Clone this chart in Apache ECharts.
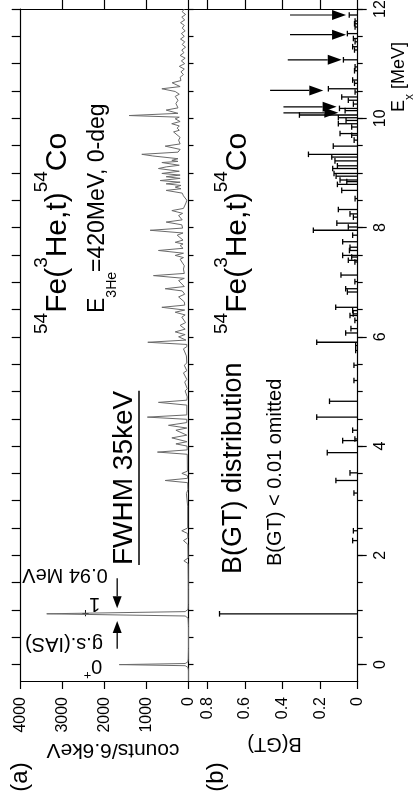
<!DOCTYPE html>
<html><head><meta charset="utf-8">
<script src="https://cdn.jsdelivr.net/npm/echarts@6/dist/echarts.min.js"></script>
<style>html,body{margin:0;padding:0;background:#fff}#c{width:414px;height:802px}</style>
</head><body><div id="c"></div>
<script>
const FONT = '"Liberation Sans", Arial, Helvetica, sans-serif';

// (a) spectrum: [Ex (MeV), counts/6.6keV]
const spectrum = [
[-0.30,0],[-0.10,0],[-0.05,15],[-0.02,80],[0.00,1650],[0.02,80],[0.05,15],[0.10,5],[0.30,0],[0.70,0],
[0.85,10],[0.89,80],[0.93,3380],[0.97,80],[1.01,10],[1.10,5],[1.38,5],[1.41,40],[1.44,5],[1.85,10],
[1.90,110],[1.95,10],[2.20,15],[2.27,120],[2.32,15],[2.40,20],[2.45,160],[2.50,20],[2.90,20],[3.13,50],
[3.20,15],[3.33,20],[3.37,556],[3.41,20],[3.46,25],[3.50,158],[3.54,25],[3.85,30],[3.89,740],[3.93,30],
[4.00,35],[4.04,300],[4.08,35],[4.15,397],[4.20,40],[4.29,300],[4.33,40],[4.38,477],[4.43,40],[4.49,40],
[4.53,980],[4.57,40],[4.75,40],[4.80,716],[4.84,40],[4.90,30],[5.01,80],[5.05,30],[5.17,90],[5.22,40],
[5.34,120],[5.38,40],[5.48,100],[5.52,40],[5.65,50],[5.78,120],[5.82,40],[5.86,40],[5.90,970],[5.94,60],
[6.00,236],[6.04,80],[6.09,317],[6.14,80],[6.21,200],[6.26,70],[6.36,160],[6.40,80],[6.45,317],[6.49,90],
[6.54,635],[6.58,90],[6.64,100],[6.73,236],[6.78,90],[6.84,150],[6.88,556],[6.92,100],[7.03,236],[7.07,100],
[7.12,835],[7.16,100],[7.24,120],[7.30,100],[7.42,200],[7.45,120],[7.49,317],[7.53,120],[7.58,716],[7.62,130],
[7.67,200],[7.70,130],[7.73,317],[7.77,130],[7.86,270],[7.90,130],[7.95,914],[7.99,140],[8.05,160],[8.10,532],
[8.14,150],[8.22,236],[8.26,140],[8.31,397],[8.35,120],[8.45,60],[8.50,40],[8.58,120],[8.63,150],[8.68,532],
[8.71,180],[8.74,317],[8.77,180],[8.80,532],[8.83,200],[8.86,675],[8.90,200],[8.93,532],[8.96,200],[8.99,635],
[9.03,220],[9.08,716],[9.11,532],[9.14,220],[9.19,635],[9.21,250],[9.23,397],[9.26,250],[9.31,850],[9.34,1113],
[9.38,250],[9.43,200],[9.49,556],[9.53,200],[9.60,236],[9.65,200],[9.75,356],[9.78,220],[9.82,270],[9.86,220],
[9.90,400],[9.94,200],[9.99,317],[10.02,220],[10.05,1415],[10.09,250],[10.15,532],[10.19,250],[10.27,300],[10.33,250],
[10.40,317],[10.44,220],[10.49,317],[10.54,635],[10.58,200],[10.65,390],[10.69,180],[10.75,200],[10.80,120],[10.85,180],
[10.90,100],[10.95,220],[11.00,90],[11.05,170],[11.10,80],[11.15,200],[11.20,110],[11.25,160],[11.30,70],[11.35,150],
[11.40,90],[11.45,190],[11.50,100],[11.55,170],[11.60,80],[11.65,150],[11.70,100],[11.75,190],[11.80,90],[11.85,160],
[11.90,70],[11.95,150],[12.00,100]
];

// (b) B(GT) distribution: [Ex (MeV), B(GT)]
const bgt = [
[0.93,0.735],[2.27,0.027],[2.45,0.023],[3.14,0.020],[3.37,0.116],[3.51,0.041],[3.88,0.162],[4.10,0.080],[4.13,0.015],[4.29,0.027],
[4.53,0.218],[4.82,0.150],[5.20,0.020],[5.48,0.020],[5.75,0.011],[5.84,0.011],[5.90,0.218],[6.07,0.064],[6.15,0.036],[6.30,0.015],
[6.39,0.041],[6.42,0.024],[6.48,0.027],[6.54,0.117],[6.82,0.055],[6.88,0.064],[7.01,0.015],[7.13,0.089],[7.37,0.015],[7.40,0.050],
[7.46,0.032],[7.49,0.080],[7.58,0.044],[7.64,0.041],[7.74,0.080],[7.86,0.027],[7.95,0.236],[8.01,0.050],[8.08,0.111],[8.19,0.023],
[8.25,0.041],[8.33,0.103],[8.53,0.014],[8.68,0.085],[8.79,0.108],[8.84,0.058],[8.87,0.094],[8.94,0.115],[8.99,0.126],[9.08,0.133],
[9.13,0.108],[9.22,0.121],[9.29,0.138],[9.34,0.262],[9.49,0.130],[9.60,0.019],[9.69,0.032],[9.72,0.094],[9.84,0.032],[9.90,0.103],
[9.96,0.062],[10.01,0.103],[10.06,0.310],[10.14,0.067],[10.18,0.097],[10.26,0.023],[10.33,0.050],[10.39,0.085],[10.48,0.014],[10.54,0.156],
[10.64,0.017],[10.70,0.027],[10.87,0.017],[10.94,0.014],[11.07,0.076],[11.25,0.017],[11.31,0.027],[11.40,0.014],[11.46,0.023],[11.55,0.055],
[11.67,0.014],[11.73,0.017],[11.78,0.014],[11.89,0.045]
];

// (b) arrows: [Ex, tip B(GT), tail B(GT)]
const bgtArrows = [[11.89,0.062,0.360],[11.53,0.062,0.360],[11.07,0.085,0.372],[10.51,0.183,0.466],[10.21,0.112,0.395],[10.10,0.103,0.395]];
// (a) arrows marking the 1+ peak: [counts, from Ex, to Ex]
const peakArrows = [[1700,0.29,0.80],[1700,1.58,1.03]];

// ticks / labels
const countTicks = [0,1000,2000,3000,4000];
const countTopTicks = [0,1000,2000,3000];
const bgtTicks = [0,0.2,0.4,0.6,0.8];
const exMajor = [0,2,4,6,8,10,12];
const exMinor = [0,0.5,1,1.5,2,2.5,3,3.5,4,4.5,5,5.5,6,6.5,7,7.5,8,8.5,9,9.5,10,10.5,11,11.5,12];

const chart = echarts.init(document.getElementById('c'), null, {renderer:'canvas', width:414, height:802});
const LS = {color:'#000', width:1.2};

function arrowEls(p, q, headLen, headHalf, lw) {
  const dx = q[0]-p[0], dy = q[1]-p[1]; const L = Math.hypot(dx, dy) || 1;
  const ux = dx/L, uy = dy/L; const bx = q[0]-ux*headLen, by = q[1]-uy*headLen;
  const nx = -uy, ny = ux;
  return [
    {type:'line', shape:{x1:p[0], y1:p[1], x2:bx, y2:by}, style:{stroke:'#000', lineWidth:lw}},
    {type:'polygon', shape:{points:[[q[0],q[1]],[bx+nx*headHalf, by+ny*headHalf],[bx-nx*headHalf, by-ny*headHalf]]}, style:{fill:'#000'}}
  ];
}

function xAxisDef(grid, pos, max, ticks, labels, tickLen) {
  return {gridIndex:grid, type:'value', position:pos, inverse:true, min:0, max:max,
    axisLine:{show:true, onZero:false, lineStyle:LS},
    axisTick:{show:true, inside:false, length:tickLen, customValues:ticks, lineStyle:LS},
    axisLabel:labels ? {show:true, rotate:90, margin:16, customValues:labels, fontSize:16, color:'#000', fontFamily:FONT,
      formatter: v => (v === 0 ? '0' : (max < 2 ? Number(v).toFixed(1) : String(v)))} : {show:false},
    splitLine:{show:false}};
}
function yAxisDef(grid, pos, ticks, tickLen, labels, showLine) {
  return {gridIndex:grid, type:'value', position:pos, min:-0.3, max:12,
    axisLine:{show:showLine, onZero:false, lineStyle:LS},
    axisTick:{show:true, inside:false, length:tickLen, customValues:ticks, lineStyle:LS},
    axisLabel:labels ? {show:true, rotate:90, margin:15, customValues:labels, fontSize:16, color:'#000', fontFamily:FONT} : {show:false},
    splitLine:{show:false}};
}

const measure = document.createElement('canvas').getContext('2d');
measure.font = '28px ' + FONT;
const fwhmW = measure.measureText('FWHM 35keV').width;

function t(x, y, rot, style) {
  return {type:'text', x:x, y:y, rotation:rot, style:Object.assign({fill:'#000', fontFamily:FONT}, style)};
}
const R90 = Math.PI/2, R180 = Math.PI;
const titleRich = {n:{fontSize:30, lineHeight:30, fontFamily:FONT}, s:{fontSize:19, lineHeight:19, fontFamily:FONT, padding:[0,0,32,0]}};
const supRich = {n:{fontSize:20, lineHeight:20, fontFamily:FONT}, s:{fontSize:13, lineHeight:13, fontFamily:FONT, padding:[0,0,17,0]}};

const option = {
  backgroundColor:'#fff',
  animation:false,
  textStyle:{fontFamily:FONT},
  grid:[
    {left:20.7, top:9, width:167.8, height:672, outerBoundsMode:'none'},
    {left:188.5, top:9, width:169.2, height:672, outerBoundsMode:'none'}
  ],
  xAxis:[
    xAxisDef(0, 'bottom', 4000, countTicks, countTicks, 8),
    xAxisDef(0, 'top', 4000, countTopTicks, null, 9),
    xAxisDef(1, 'bottom', 0.9, bgtTicks, bgtTicks, 8),
    xAxisDef(1, 'top', 0.9, bgtTicks, null, 9)
  ],
  yAxis:[
    yAxisDef(0, 'left', exMinor, 9, null, true),
    yAxisDef(0, 'right', exMinor, 5, null, true),
    yAxisDef(1, 'right', exMinor, 5, null, true),
    yAxisDef(1, 'right', exMajor, 9, exMajor, false)
  ],
  series:[
    {type:'line', name:'spectrum', xAxisIndex:0, yAxisIndex:0, data:spectrum.map(d => [d[1], d[0]]),
     symbol:'none', showSymbol:false, lineStyle:{color:'#6a6a6a', width:1}, silent:true, z:3},
    {type:'custom', name:'peak arrows', xAxisIndex:0, yAxisIndex:0, data:peakArrows, encode:{x:0, y:[1,2]}, silent:true, z:4,
     renderItem:(params, api) => {
       const c = api.value(0);
       return {type:'group', children:arrowEls(api.coord([c, api.value(1)]), api.coord([c, api.value(2)]), 12, 4.5, 1.3)};
     }},
    {type:'custom', name:'B(GT)', xAxisIndex:2, yAxisIndex:2, data:bgt.map(d => [d[1], d[0]]), encode:{x:0, y:1}, silent:true, z:4,
     renderItem:(params, api) => {
       const v = api.value(0), e = api.value(1);
       const a = api.coord([0, e]), b = api.coord([v, e]);
       return {type:'group', children:[
         {type:'line', shape:{x1:a[0], y1:a[1], x2:b[0], y2:b[1]}, style:{stroke:'#000', lineWidth:1.3}},
         {type:'line', shape:{x1:b[0], y1:b[1]-2.8, x2:b[0], y2:b[1]+2.8}, style:{stroke:'#000', lineWidth:1.3}}
       ]};
     }},
    {type:'custom', name:'B(GT) arrows', xAxisIndex:2, yAxisIndex:2, data:bgtArrows.map(d => [d[1], d[0], d[2]]), encode:{x:[0,2], y:1}, silent:true, z:5,
     renderItem:(params, api) => {
       const e = api.value(1);
       return {type:'group', children:arrowEls(api.coord([api.value(2), e]), api.coord([api.value(0), e]), 14, 5, 1.2)};
     }}
  ],
  graphic:[
    t(58, 334, R90, {text:'{s|54}{n|Fe(}{s|3}{n|He,t)}{s|54}{n|Co}', rich:titleRich, align:'left', verticalAlign:'middle'}),
    t(97.5, 313, R90, {text:'{n|E}{b|3He}{n|=420MeV, 0-deg}', rich:{n:{fontSize:23, lineHeight:23, fontFamily:FONT}, b:{fontSize:14, lineHeight:14, fontFamily:FONT, padding:[30,0,0,0]}}, align:'left', verticalAlign:'middle'}),
    {type:'group', x:124, y:565, rotation:R90, children:[
      {type:'text', x:0, y:0, style:{text:'FWHM 35keV', fontSize:28, fontFamily:FONT, fill:'#000', align:'left', verticalAlign:'middle'}},
      {type:'line', shape:{x1:0, y1:15, x2:fwhmW, y2:15}, style:{stroke:'#000', lineWidth:1.5}}
    ]},
    t(65, 575, R180, {text:'0.94 MeV', fontSize:20, align:'center', verticalAlign:'middle'}),
    t(64, 644, R180, {text:'g.s.(IAS)', fontSize:20, align:'center', verticalAlign:'middle'}),
    t(91, 604, R180, {text:'{n|1}{s|+}', rich:supRich, align:'center', verticalAlign:'middle'}),
    t(93, 666, R180, {text:'{n|0}{s|+}', rich:supRich, align:'center', verticalAlign:'middle'}),
    t(238, 334, R90, {text:'{s|54}{n|Fe(}{s|3}{n|He,t)}{s|54}{n|Co}', rich:titleRich, align:'left', verticalAlign:'middle'}),
    t(234, 574, R90, {text:'B(GT) distribution', fontSize:27, align:'left', verticalAlign:'middle'}),
    t(275, 566, R90, {text:'B(GT) < 0.01 omitted', fontSize:20, align:'left', verticalAlign:'middle'}),
    t(399, 112, R90, {text:'{n|E}{b|x}{n| [MeV]}', rich:{n:{fontSize:18, lineHeight:18, fontFamily:FONT}, b:{fontSize:12, lineHeight:12, fontFamily:FONT, padding:[22,0,0,0]}}, align:'left', verticalAlign:'middle'}),
    t(113, 750, R180, {text:'counts/6.6keV', fontSize:21, align:'center', verticalAlign:'middle'}),
    t(274.5, 744, R180, {text:'B(GT)', fontSize:20, align:'center', verticalAlign:'middle'}),
    t(20, 777, R90, {text:'(a)', fontSize:24, align:'center', verticalAlign:'middle'}),
    t(216, 777, R90, {text:'(b)', fontSize:24, align:'center', verticalAlign:'middle'})
  ]
};
chart.setOption(option);
</script>
</body></html>
